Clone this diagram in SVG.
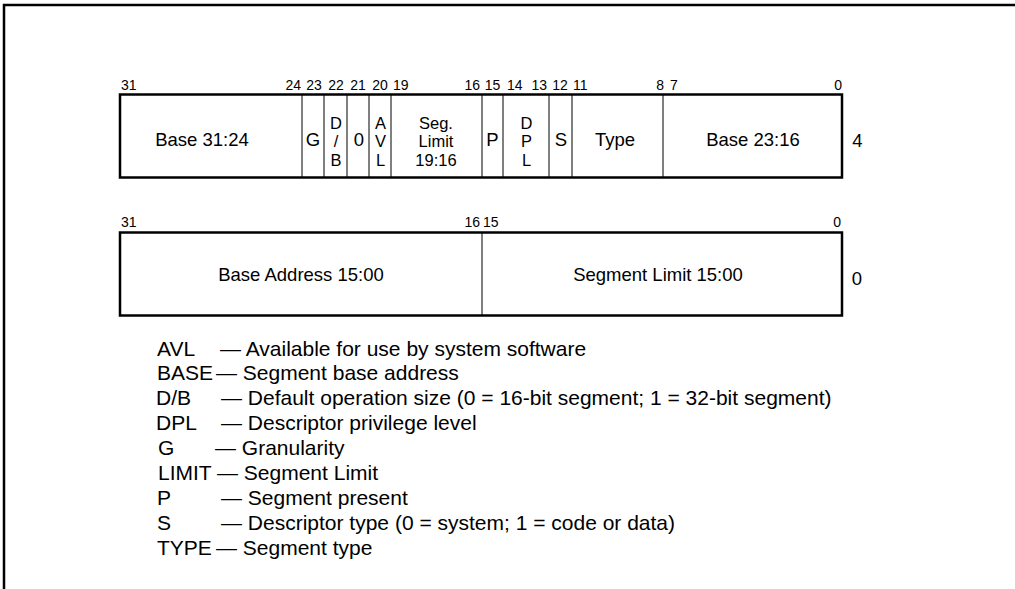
<svg xmlns="http://www.w3.org/2000/svg" width="1015" height="589" viewBox="0 0 1015 589">
<style>
text{font-family:"Liberation Sans",Arial,sans-serif;fill:#000}
.bit{font-size:14px}
.fld{font-size:18.5px;text-anchor:middle}
.stk{font-size:16.5px;text-anchor:middle}
.lg{font-size:21px}
.box{fill:#fff;stroke:#000;stroke-width:2.5}
.div{stroke:#000;stroke-width:1}
.frame{stroke:#000;stroke-width:2.5;fill:none}
.m{text-anchor:middle}
.e{text-anchor:end}
</style>
<rect width="1015" height="589" fill="#fff"/>
<path class="frame" d="M4,589 V5 H1015"/>

<g id="word4">
  <rect class="box" x="120" y="94.5" width="722" height="83"/>
  <g id="word4-dividers">
    <line class="div" x1="302" y1="94.5" x2="302" y2="177.5"/>
    <line class="div" x1="324" y1="94.5" x2="324" y2="177.5"/>
    <line class="div" x1="347" y1="94.5" x2="347" y2="177.5"/>
    <line class="div" x1="369" y1="94.5" x2="369" y2="177.5"/>
    <line class="div" x1="391" y1="94.5" x2="391" y2="177.5"/>
    <line class="div" x1="482" y1="94.5" x2="482" y2="177.5"/>
    <line class="div" x1="503" y1="94.5" x2="503" y2="177.5"/>
    <line class="div" x1="549" y1="94.5" x2="549" y2="177.5"/>
    <line class="div" x1="572" y1="94.5" x2="572" y2="177.5"/>
    <line class="div" x1="663" y1="94.5" x2="663" y2="177.5"/>
  </g>
  <g id="word4-bits" class="bit">
    <text x="121" y="90">31</text>
    <text class="e" x="301" y="90">24</text>
    <text class="m" x="314" y="90">23</text>
    <text class="m" x="336" y="90">22</text>
    <text class="m" x="358" y="90">21</text>
    <text class="m" x="380" y="90">20</text>
    <text x="393" y="90">19</text>
    <text class="e" x="480" y="90">16</text>
    <text class="m" x="492.5" y="90">15</text>
    <text x="507" y="90">14</text>
    <text class="e" x="547" y="90">13</text>
    <text class="m" x="560" y="90">12</text>
    <text x="573" y="90">11</text>
    <text class="e" x="664" y="90">8</text>
    <text x="670" y="90">7</text>
    <text class="e" x="842" y="90">0</text>
  </g>
  <g id="word4-fields">
    <text class="fld" x="202" y="146">Base 31:24</text>
    <text class="fld" x="313" y="146">G</text>
    <text class="stk" x="336" y="128.5">D<tspan x="336" dy="18.8">/</tspan><tspan x="336" dy="18.8">B</tspan></text>
    <text class="fld" x="359" y="146">0</text>
    <text class="stk" x="380.5" y="128.5">A<tspan x="380.5" dy="18.8">V</tspan><tspan x="380.5" dy="18.8">L</tspan></text>
    <text class="stk" x="436" y="128.5">Seg.<tspan x="436" dy="18.8">Limit</tspan><tspan x="436" dy="18.8">19:16</tspan></text>
    <text class="fld" x="492.5" y="146">P</text>
    <text class="stk" x="526.5" y="128.5">D<tspan x="526.5" dy="18.8">P</tspan><tspan x="526.5" dy="18.8">L</tspan></text>
    <text class="fld" x="561" y="146">S</text>
    <text class="fld" x="615" y="146">Type</text>
    <text class="fld" x="753" y="146">Base 23:16</text>
  </g>
  <text class="fld" x="857.5" y="147">4</text>
</g>

<g id="word0">
  <rect class="box" x="120" y="232.5" width="722" height="83"/>
  <line class="div" x1="482" y1="232.5" x2="482" y2="315.5"/>
  <g id="word0-bits" class="bit">
    <text x="121" y="227">31</text>
    <text class="e" x="480" y="227">16</text>
    <text x="483" y="227">15</text>
    <text class="e" x="841" y="227">0</text>
  </g>
  <text class="fld" x="301" y="281">Base Address 15:00</text>
  <text class="fld" x="658" y="281">Segment Limit 15:00</text>
  <text class="fld" x="857" y="285">0</text>
</g>

<g id="legend" class="lg">
  <text x="157" y="356">AVL</text><text x="220" y="356">— Available for use by system software</text>
  <text x="157" y="380">BASE</text><text x="216" y="380">— Segment base address</text>
  <text x="156" y="405">D/B</text><text x="221" y="405">— Default operation size (0 = 16-bit segment; 1 = 32-bit segment)</text>
  <text x="156" y="430">DPL</text><text x="221" y="430">— Descriptor privilege level</text>
  <text x="158" y="455">G</text><text x="215" y="455">— Granularity</text>
  <text x="158" y="480">LIMIT</text><text x="217" y="480">— Segment Limit</text>
  <text x="157" y="505">P</text><text x="221" y="505">— Segment present</text>
  <text x="157" y="530">S</text><text x="221" y="530">— Descriptor type (0 = system; 1 = code or data)</text>
  <text x="157" y="555">TYPE</text><text x="216" y="555">— Segment type</text>
</g>
</svg>
